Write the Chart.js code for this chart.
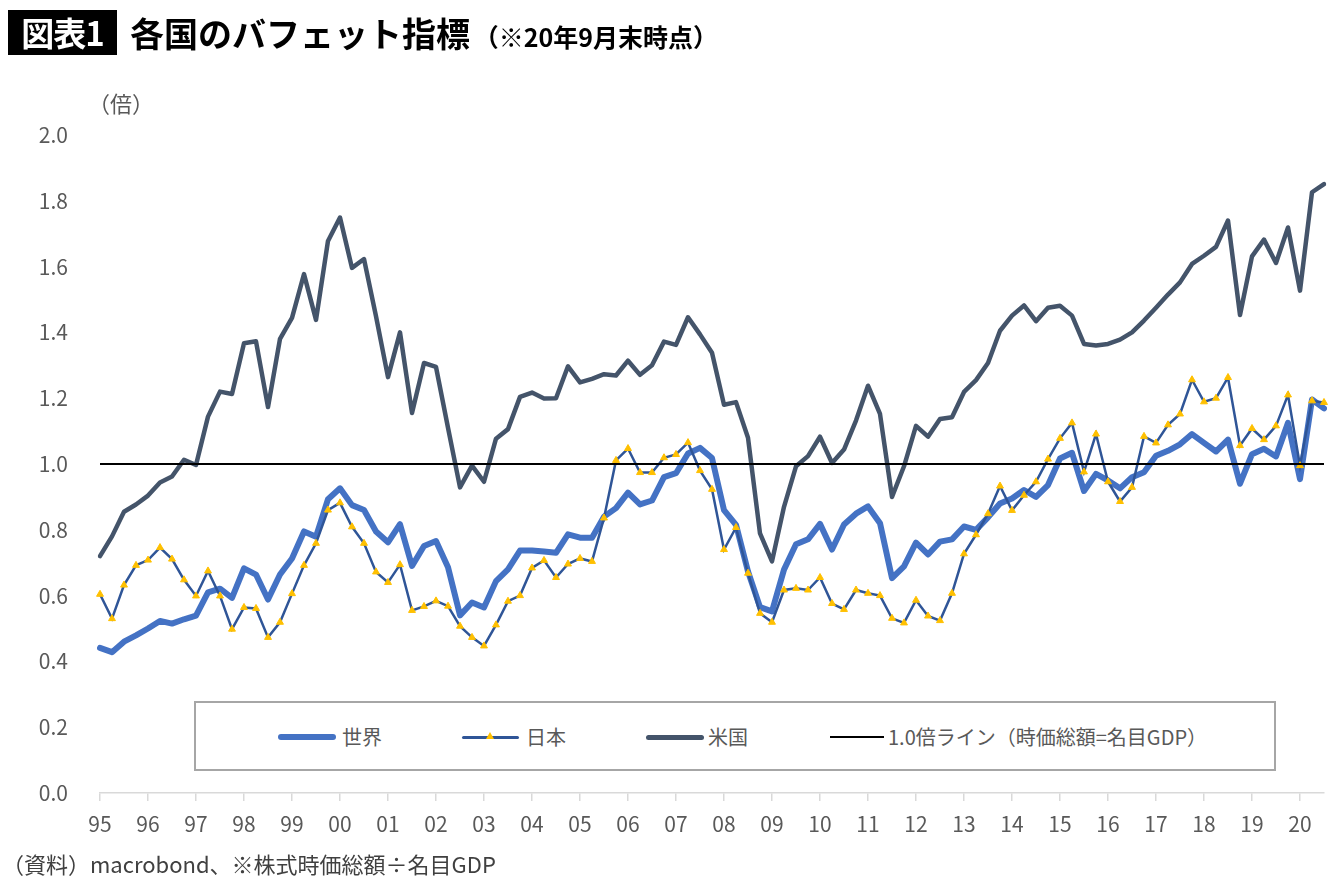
<!DOCTYPE html>
<html lang="ja">
<head>
<meta charset="utf-8">
<title>各国のバフェット指標</title>
<script src="https://cdn.jsdelivr.net/npm/chart.js@4.4.1/dist/chart.umd.min.js"></script>
<style>
  body { margin: 0; background: #fff; font-family: "Noto Sans CJK JP", "Noto Sans", sans-serif; }
  #wrap { position: relative; width: 1340px; height: 884px; overflow: hidden; }
  #wrap canvas { position: absolute; left: 0; top: 0; }
  .tag { position: absolute; left: 8px; top: 10px; width: 109px; height: 45px; background: #000; color: #fff;
         font-weight: bold; font-size: 33px; line-height: 45px; text-align: center; letter-spacing: -1px; }
  .title { position: absolute; left: 130px; top: 10px; height: 45px; line-height: 45px; font-weight: bold;
           font-size: 34px; color: #000; white-space: nowrap; }
  .title small { font-size: 25px; margin-left: -4px; }
  .unit { position: absolute; left: 88px; top: 86px; font-size: 22px; color: #595959; }
  .note { position: absolute; left: 2px; top: 847px; font-size: 22px; color: #404040; white-space: nowrap; }
  .legend { position: absolute; left: 194px; top: 701px; width: 1082px; height: 70px; box-sizing: border-box;
            border: 2px solid #a6a6a6; background: #fff; }
  .item { position: absolute; top: 20px; height: 28px; line-height: 28px; font-size: 20px; color: #595959; white-space: nowrap; }
  .swatch { position: absolute; top: 14px; border-radius: 4px; }
  .tri { position: absolute; left: 24px; top: -4px; width: 0; height: 0; border-left: 4px solid transparent;
         border-right: 4px solid transparent; border-bottom: 7px solid #FFC000; }
</style>
</head>
<body>
<div id="wrap">
  <canvas id="buffettChart" width="1340" height="884"></canvas>
  <div class="tag">図表1</div>
  <div class="title">各国のバフェット指標 <small>（※20年9月末時点）</small></div>
  <div class="unit">（倍）</div>
  <div class="legend">
    <div class="item" style="left:82px;"><span class="swatch" style="left:0;width:58px;height:6px;margin-top:-3px;background:#4472C4;"></span><span style="margin-left:64px;">世界</span></div>
    <div class="item" style="left:266px;"><span class="swatch" style="left:0;width:57px;height:3px;margin-top:-1px;background:#2F5597;"><span class="tri"></span></span><span style="margin-left:64px;">日本</span></div>
    <div class="item" style="left:450px;"><span class="swatch" style="left:0;width:58px;height:5px;margin-top:-2px;background:#44546A;"></span><span style="margin-left:62px;">米国</span></div>
    <div class="item" style="left:634px;"><span class="swatch" style="left:0;width:54px;height:2px;margin-top:-1px;background:#000;border-radius:0;"></span><span style="margin-left:58px;">1.0倍ライン（時価総額=名目GDP）</span></div>
  </div>
  <div class="note">（資料）macrobond、※株式時価総額÷名目GDP</div>
</div>
<script>
// 四半期データ 1995Q1 - 2020Q3
const yearLabels = ['95', '96', '97', '98', '99', '00', '01', '02', '03', '04', '05', '06', '07',
                    '08', '09', '10', '11', '12', '13', '14', '15', '16', '17', '18', '19', '20'];

const world = [
  0.441, 0.428, 0.46, 0.479,
  0.50, 0.523, 0.515, 0.528,
  0.539, 0.61, 0.621, 0.593,
  0.683, 0.664, 0.588, 0.664,
  0.713, 0.795, 0.779, 0.893,
  0.926, 0.875, 0.86, 0.795,
  0.762, 0.817, 0.69, 0.751,
  0.766, 0.686, 0.54, 0.579,
  0.564, 0.644, 0.68, 0.737,
  0.737, 0.734, 0.73, 0.786,
  0.776, 0.776, 0.84, 0.866,
  0.913, 0.877, 0.889, 0.96,
  0.972, 1.032, 1.049, 1.018,
  0.86, 0.815, 0.673, 0.565,
  0.552, 0.679, 0.756, 0.771,
  0.818, 0.74, 0.816, 0.849,
  0.871, 0.82, 0.653, 0.689,
  0.761, 0.725, 0.764, 0.771,
  0.81, 0.80, 0.838, 0.88,
  0.895, 0.921, 0.90, 0.936,
  1.017, 1.034, 0.918, 0.97,
  0.95, 0.926, 0.96, 0.975,
  1.025, 1.04, 1.06, 1.091,
  1.064, 1.038, 1.074, 0.94,
  1.03, 1.046, 1.023, 1.125,
  0.954, 1.196, 1.169
];

const japan = [
  0.604, 0.53, 0.632, 0.692,
  0.708, 0.746, 0.711, 0.648,
  0.599, 0.675, 0.599, 0.498,
  0.564, 0.561, 0.473, 0.519,
  0.606, 0.692, 0.759, 0.86,
  0.882, 0.809, 0.759, 0.672,
  0.64, 0.694, 0.555, 0.567,
  0.584, 0.568, 0.507, 0.473,
  0.447, 0.511, 0.583, 0.60,
  0.684, 0.707, 0.655, 0.696,
  0.713, 0.704, 0.836, 1.011,
  1.047, 0.974, 0.974, 1.019,
  1.029, 1.065, 0.98, 0.923,
  0.74, 0.807, 0.668, 0.546,
  0.519, 0.617, 0.622, 0.617,
  0.655, 0.576, 0.558, 0.617,
  0.607, 0.60, 0.531, 0.517,
  0.586, 0.538, 0.524, 0.607,
  0.727, 0.785, 0.849, 0.933,
  0.859, 0.905, 0.946, 1.015,
  1.078, 1.125, 0.976, 1.091,
  0.946, 0.886, 0.929, 1.084,
  1.064, 1.119, 1.152, 1.256,
  1.189, 1.20, 1.263, 1.056,
  1.108, 1.074, 1.116, 1.21,
  0.995, 1.192, 1.187
];

const usa = [
  0.72, 0.78, 0.855, 0.877,
  0.904, 0.944, 0.962, 1.013,
  0.997, 1.144, 1.22, 1.213,
  1.367, 1.373, 1.173, 1.38,
  1.444, 1.577, 1.438, 1.678,
  1.749, 1.596, 1.623, 1.449,
  1.264, 1.40, 1.155, 1.307,
  1.295, 1.11, 0.929, 0.995,
  0.946, 1.077, 1.106, 1.204,
  1.217, 1.199, 1.20, 1.297,
  1.248, 1.259, 1.273, 1.269,
  1.314, 1.271, 1.30, 1.372,
  1.362, 1.446, 1.394, 1.338,
  1.18, 1.188, 1.08, 0.789,
  0.704, 0.87, 0.993, 1.024,
  1.083, 1.003, 1.044, 1.132,
  1.238, 1.152, 0.90, 0.993,
  1.116, 1.083, 1.137, 1.142,
  1.219, 1.255, 1.307, 1.405,
  1.451, 1.482, 1.434, 1.475,
  1.481, 1.451, 1.365, 1.36,
  1.365, 1.378, 1.40, 1.436,
  1.475, 1.515, 1.552, 1.608,
  1.633, 1.66, 1.74, 1.453,
  1.631, 1.682, 1.611, 1.719,
  1.527, 1.826, 1.851
];

const refLevel = 1.0;

// 四半期ごとのカテゴリ（年の第1四半期だけ年ラベル）
const categories = yearLabels.flatMap(y => [y, y + 'Q2', y + 'Q3', y + 'Q4']).slice(0, world.length);

// 1.0倍ライン
const refLinePlugin = {
  id: 'refLine',
  afterDatasetsDraw(chart) {
    const { ctx, chartArea, scales } = chart;
    const y = scales.y.getPixelForValue(refLevel);
    ctx.save();
    ctx.strokeStyle = '#000';
    ctx.lineWidth = 2;
    ctx.beginPath();
    ctx.moveTo(chartArea.left, y);
    ctx.lineTo(chartArea.right, y);
    ctx.stroke();
    ctx.restore();
  }
};

Chart.defaults.font.family = '"Noto Sans CJK JP", "Noto Sans", sans-serif';
Chart.defaults.font.size = 21;
Chart.defaults.color = '#595959';

const ctx = document.getElementById('buffettChart').getContext('2d');

const buffettChart = new Chart(ctx, {
  type: 'line',
  data: {
    labels: categories,
    datasets: [
      {
        label: '日本',
        data: japan,
        borderColor: '#2F5597',
        borderWidth: 2.5,
        pointStyle: 'triangle',
        pointRadius: 4,
        pointBackgroundColor: '#FFC000',
        pointBorderColor: '#FFC000',
        pointBorderWidth: 1,
        tension: 0,
        order: 1
      },
      {
        label: '世界',
        data: world,
        borderColor: '#4472C4',
        borderWidth: 6,
        pointRadius: 0,
        borderJoinStyle: 'round',
        borderCapStyle: 'round',
        tension: 0,
        order: 2
      },
      {
        label: '米国',
        data: usa,
        borderColor: '#44546A',
        borderWidth: 4.5,
        pointRadius: 0,
        borderJoinStyle: 'round',
        borderCapStyle: 'round',
        tension: 0,
        order: 3
      }
    ]
  },
  options: {
    responsive: false,
    animation: false,
    layout: {
      padding: { top: 135, right: 16, bottom: 0, left: 0 }
    },
    plugins: {
      legend: { display: false },
      tooltip: { enabled: false }
    },
    scales: {
      x: {
        offset: false,
        afterFit: scale => { scale.height = 91; },
        afterBuildTicks: scale => {
          scale.ticks = scale.ticks.filter(t => t.value % 4 === 0);
        },
        ticks: {
          autoSkip: false,
          maxRotation: 0,
          padding: 10,
          callback: function (value) {
            return this.getLabelForValue(value);
          }
        },
        grid: {
          drawOnChartArea: false,
          drawTicks: true,
          tickLength: 8,
          color: '#d9d9d9',
          lineWidth: 1.5
        },
        border: { color: '#d9d9d9', width: 1.5 }
      },
      y: {
        min: 0,
        max: 2.0,
        afterFit: scale => { scale.width = 100; },
        ticks: {
          stepSize: 0.2,
          padding: 24,
          callback: v => v.toFixed(1)
        },
        grid: { display: false },
        border: { display: false }
      }
    }
  },
  plugins: [refLinePlugin]
});
</script>
</body>
</html>
